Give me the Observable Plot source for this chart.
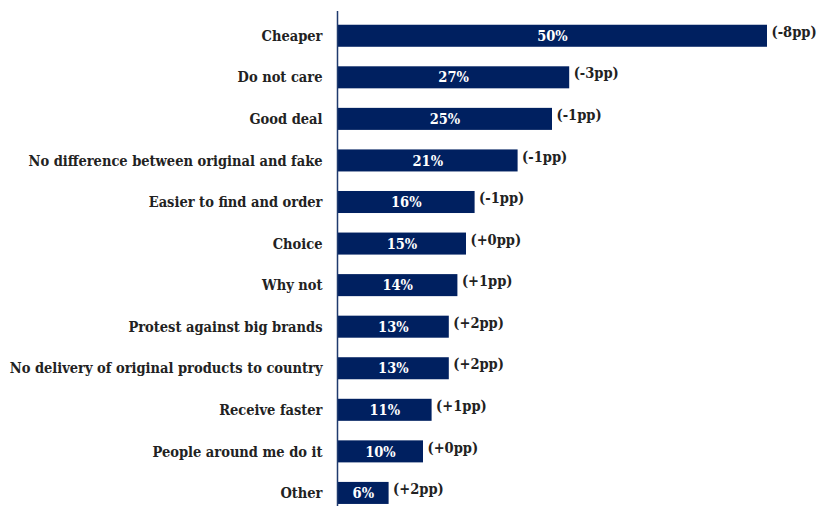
<!DOCTYPE html>
<html><head><meta charset="utf-8">
<script src="https://cdn.jsdelivr.net/npm/d3@7"></script>
<script src="https://cdn.jsdelivr.net/npm/@observablehq/plot@0.6"></script>
<style>body{margin:0;background:#fff;} svg{display:block;}</style>
</head><body><div id="chart"></div>
<script>
const categories = ["Cheaper","Do not care","Good deal","No difference between original and fake","Easier to find and order","Choice","Why not","Protest against big brands","No delivery of original products to country","Receive faster","People around me do it","Other"];
const values = [50,27,25,21,16,15,14,13,13,11,10,6];
const changes = ["(-8pp)","(-3pp)","(-1pp)","(-1pp)","(-1pp)","(+0pp)","(+1pp)","(+2pp)","(+2pp)","(+1pp)","(+0pp)","(+2pp)"];
const data = categories.map((c,i)=>({category:c, value:values[i], change:changes[i]}));
const font = "'DejaVu Serif Condensed', 'DejaVu Serif', serif";
const fs = 14.5;
const chart = Plot.plot({
  width: 821, height: 506,
  marginLeft: 337, marginRight: 0, marginTop: 11, marginBottom: 0,
  style: {fontFamily: font, fontSize: fs + "px", fontWeight: "bold", color: "#222"},
  x: {domain: [0, 50], range: [337, 767], axis: null},
  y: {domain: categories, paddingInner: 0.47, paddingOuter: 0.19, align: 0.87, round: false, label: null},
  marks: [
    Plot.axisY({tickSize: 0, tickPadding: 15, fontSize: fs, fontWeight: "bold", fill: "#222"}),
    Plot.barX(data, {x: "value", y: "category", fill: "#002060"}),
    Plot.ruleX([0], {stroke: "#1f3a6e", strokeWidth: 1.5}),
    Plot.text(data, {x: d => d.value/2, y: "category", text: d => d.value + "%", fill: "white", fontSize: fs, fontWeight: "bold"}),
    Plot.text(data, {x: "value", y: "category", text: "change", textAnchor: "start", dx: 4, dy: -4, fill: "#222", fontSize: fs, fontWeight: "bold"})
  ]
});
document.getElementById("chart").appendChild(chart);
</script></body></html>
